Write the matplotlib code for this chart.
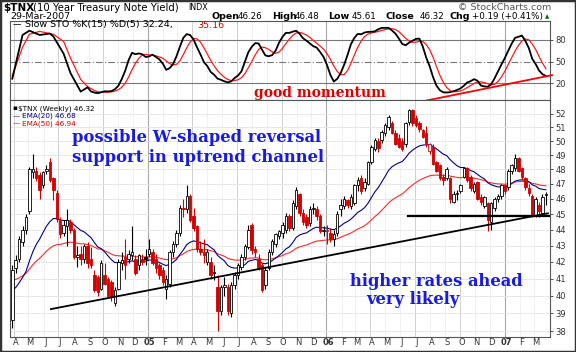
import matplotlib
matplotlib.use('Agg')
import matplotlib.pyplot as plt
import numpy as np
import pandas as pd

# $TNX weekly bars, week of 2004-03-29 .. week of 2007-03-26
opens = [38.6, 41.6, 42.2, 43.2, 44.0, 45.2, 47.8, 47.9, 47.6, 46.9, 47.9, 48.5, 47.4, 46.4, 44.6, 43.8, 44.2, 44.5, 44.0, 42.3,
         42.5, 42.2, 43.0, 42.2, 41.2, 41.1, 40.4, 41.2, 41.0, 40.8, 39.6, 40.4, 41.9, 42.3, 42.2, 42.4, 42.2, 41.8, 42.2, 42.3,
         42.5, 42.6, 42.2, 41.8, 41.5, 40.4, 40.7, 42.6, 43.1, 43.8, 45.4, 45.3, 46.2, 44.9, 44.2, 42.8, 42.6, 42.0, 42.0, 41.3,
         40.5, 39.1, 40.5, 40.5, 39.0, 40.6, 41.2, 41.7, 42.3, 42.9, 44.3, 42.8, 42.2, 41.8, 40.6, 41.6, 42.6, 43.1, 43.6, 43.8,
         44.0, 44.9, 44.1, 45.5, 46.3, 45.1, 44.8, 44.4, 45.3, 45.3, 44.9, 43.9, 43.9, 43.8, 43.4, 43.8, 45.3, 45.5, 45.9, 45.5,
         45.7, 46.9, 47.4, 46.7, 47.0, 48.5, 49.4, 50.0, 50.1, 50.6, 51.0, 51.3, 50.6, 50.2, 50.0, 49.8, 51.4, 52.3, 51.7, 51.3,
         50.8, 50.6, 49.3, 49.6, 48.5, 48.3, 47.5, 47.4, 47.4, 45.8, 46.3, 46.5, 47.5, 48.1, 47.5, 46.5, 47.1, 46.1, 45.5, 45.7,
         44.5, 45.4, 46.0, 46.2, 46.9, 46.8, 47.9, 48.1, 48.8, 48.1, 47.4, 46.7, 46.2, 44.9, 45.6, 45.1, 46.26]
highs = [41.8, 42.4, 43.6, 44.2, 45.0, 48.2, 49.1, 48.2, 47.8, 47.9, 48.3, 48.8, 47.5, 46.6, 44.8, 44.6, 45.3, 44.7, 44.1, 43.0,
         43.0, 43.1, 43.2, 42.9, 41.5, 41.2, 42.1, 41.9, 41.1, 40.9, 40.5, 42.2, 42.6, 43.4, 42.7, 44.2, 42.4, 42.5, 42.5, 42.8,
         43.4, 42.8, 42.5, 41.9, 41.7, 41.2, 42.7, 43.3, 44.0, 45.6, 46.0, 46.9, 46.3, 45.4, 44.3, 43.3, 43.4, 42.8, 42.3, 41.8,
         41.2, 40.6, 41.1, 40.7, 40.8, 41.4, 41.9, 42.5, 43.1, 44.3, 44.4, 43.0, 42.5, 41.9, 41.7, 42.8, 43.4, 43.8, 44.0, 44.5,
         45.1, 45.0, 45.9, 46.8, 46.4, 45.3, 45.0, 45.5, 45.7, 45.5, 45.0, 44.2, 44.3, 44.1, 44.0, 45.2, 46.0, 46.2, 46.0, 46.3,
         47.0, 47.5, 47.6, 47.4, 48.6, 49.7, 50.2, 50.2, 50.8, 51.3, 51.9, 51.5, 50.8, 50.5, 50.2, 51.4, 52.4, 52.4, 51.9, 51.5,
         50.9, 51.1, 49.9, 49.8, 48.6, 48.4, 47.7, 48.2, 47.5, 46.5, 46.6, 47.0, 48.2, 48.2, 47.6, 47.1, 47.2, 46.3, 46.2, 45.8,
         45.8, 46.1, 46.3, 47.0, 47.0, 48.0, 48.4, 49.1, 48.9, 48.2, 47.5, 47.0, 46.3, 46.1, 45.8, 46.3, 46.48]
lows = [38.2, 41.3, 42.0, 43.0, 43.7, 45.0, 47.4, 47.2, 46.0, 46.7, 47.7, 47.1, 45.9, 44.5, 43.5, 43.6, 43.0, 43.8, 42.2, 41.7,
        41.8, 41.9, 41.6, 41.6, 40.2, 40.0, 40.3, 40.6, 39.9, 39.7, 39.4, 40.3, 41.5, 41.0, 41.9, 42.1, 41.2, 41.5, 41.8, 41.8,
        42.3, 41.8, 41.3, 41.0, 40.6, 39.8, 40.5, 42.3, 42.9, 43.6, 44.8, 45.1, 44.5, 43.9, 42.6, 42.4, 41.9, 41.8, 41.0, 40.9,
        38.0, 38.9, 40.0, 38.9, 38.8, 40.4, 41.0, 41.5, 42.1, 42.8, 42.5, 42.3, 41.5, 40.2, 40.4, 41.5, 42.4, 42.9, 43.4, 43.5,
        43.8, 43.9, 44.0, 45.3, 44.9, 44.3, 44.1, 44.2, 45.0, 44.6, 43.8, 43.6, 43.1, 43.2, 43.0, 43.6, 44.9, 45.3, 45.4, 45.3,
        45.6, 46.5, 46.3, 46.5, 46.9, 48.4, 49.3, 49.2, 49.9, 50.4, 50.8, 50.5, 49.7, 49.5, 49.3, 49.6, 51.2, 51.1, 51.0, 50.7,
        50.2, 49.6, 49.1, 48.3, 47.8, 47.3, 46.9, 47.3, 45.7, 45.7, 45.9, 46.4, 47.4, 47.1, 46.5, 46.4, 45.9, 45.6, 45.4, 43.9,
        44.0, 45.2, 45.8, 46.0, 46.3, 46.6, 47.7, 47.9, 47.8, 47.3, 46.6, 46.2, 44.8, 44.8, 44.8, 45.0, 45.61]
closes = [41.5, 42.1, 43.4, 44.0, 44.8, 48.0, 48.0, 47.4, 46.6, 47.8, 48.0, 47.3, 46.6, 44.7, 43.7, 44.3, 44.6, 44.0, 42.3, 42.4,
          42.2, 43.0, 41.9, 41.8, 40.3, 40.2, 41.9, 40.7, 40.0, 39.9, 40.3, 42.0, 42.1, 41.8, 42.5, 42.6, 41.3, 42.4, 42.0, 42.2,
          42.8, 41.9, 41.6, 41.2, 40.8, 41.0, 42.6, 43.1, 43.8, 45.4, 45.3, 46.2, 44.6, 44.1, 42.8, 42.6, 42.4, 42.6, 41.2, 41.4,
          39.1, 40.5, 40.6, 39.1, 40.6, 41.2, 41.8, 42.3, 43.0, 44.0, 42.7, 42.6, 41.6, 40.3, 41.5, 42.6, 43.3, 43.7, 43.9, 44.3,
          44.9, 44.1, 45.7, 46.6, 45.1, 44.5, 44.3, 45.3, 45.4, 44.9, 43.9, 44.0, 43.9, 43.4, 43.7, 45.0, 45.6, 46.0, 45.6, 46.1,
          46.9, 47.3, 46.5, 47.1, 48.5, 49.6, 50.1, 49.5, 50.7, 51.2, 51.8, 50.6, 49.8, 49.6, 49.4, 51.3, 52.3, 51.3, 51.2, 50.9,
          50.3, 49.9, 49.8, 48.4, 47.9, 47.4, 47.3, 48.0, 46.0, 46.3, 46.4, 46.9, 48.1, 47.3, 46.7, 47.0, 46.0, 45.8, 46.1, 44.6,
          45.7, 46.0, 46.2, 46.9, 46.5, 47.9, 48.3, 48.8, 47.9, 47.5, 46.8, 46.4, 44.9, 46.0, 45.2, 46.1, 46.32]
ema20_start = 40.3
ema50_start = 40.9

# slow stochastic for the first weeks (before the 15/5/5 window fills)
sto_early_weeks = [0, 3, 5, 8, 11, 12, 15, 17, 20, 22]
sto_k_early = [26, 87, 93, 87, 89, 85, 61, 34, 8, 14]
sto_d_early = [30, 70, 88, 92, 89, 88, 78, 55, 25, 15]

month_labels = ['A', 'M', 'J', 'J', 'A', 'S', 'O', 'N', 'D', '05', 'F', 'M', 'A', 'M', 'J', 'J', 'A', 'S', 'O', 'N', 'D',
                '06', 'F', 'M', 'A', 'M', 'J', 'J', 'A', 'S', 'O', 'N', 'D', '07', 'F', 'M']

weeks = pd.date_range('2004-03-29', periods=len(closes), freq='W-MON')
n = len(closes)
x = np.arange(n)
o, h, l, c = (np.array(v) for v in (opens, highs, lows, closes))

ema20 = pd.Series(np.r_[ema20_start, c[1:]]).ewm(span=20, adjust=False).mean().values
ema50 = pd.Series(np.r_[ema50_start, c[1:]]).ewm(span=50, adjust=False).mean().values

# slow stochastic %K(15) %D(5)
hh = pd.Series(h).rolling(15).max()
ll = pd.Series(l).rolling(15).min()
fast_k = 100 * (pd.Series(c) - ll) / (hh - ll)
slow_k = fast_k.rolling(5).mean()
slow_d = slow_k.rolling(5).mean()

RED = '#d40000'
BLUE = '#1a1ae6'

fig = plt.figure(figsize=(5.76, 3.52), dpi=100)
fig.patch.set_facecolor('white')
W, H = 576.0, 352.0
L_PX, R_PX = 10, 550
ax_sto = fig.add_axes([L_PX / W, (H - 100) / H, (R_PX - L_PX) / W, 79 / H])
ax = fig.add_axes([L_PX / W, (H - 337) / H, (R_PX - L_PX) / W, 237 / H])

xmin, xmax = -0.67, 157.2
month_starts = pd.date_range('2004-04-01', '2007-03-01', freq='MS')
mpos = np.array([(d - weeks[0]).days / 7.0 for d in month_starts])

for a in (ax, ax_sto):
    a.set_xlim(xmin, xmax)
    for d, p in zip(month_starts, mpos):
        if d.month == 1:
            a.axvline(p, color='#a8a8a8', lw=0.8, zorder=0)
        elif d.month in (4, 7, 10):
            a.axvline(p, color='#d0d0d0', lw=0.7, zorder=0)
        else:
            a.axvline(p, color='#ececec', lw=0.5, zorder=0)
    for s in a.spines.values():
        s.set_color('#555555')
        s.set_linewidth(0.8)
    a.yaxis.tick_right()
    a.tick_params(axis='y', labelsize=6, length=2, pad=2, colors='#333333', width=0.6)
    a.set_xticks([])

# ---- stochastic panel
ax_sto.set_ylim(-3.7, 106.5)
ax_sto.axhline(80, color='#777777', lw=0.8)
ax_sto.axhline(20, color='#777777', lw=0.8)
ax_sto.axhline(50, color='#777777', lw=0.8, ls=(0, (6, 2, 1, 2)))
k_ok = slow_k.notna().values & (x > 22)
d_ok = slow_d.notna().values & (x > 22)
ax_sto.plot(sto_early_weeks + list(x[d_ok]), sto_d_early + list(slow_d[d_ok]), color='#ff1a1a', lw=0.9)
ax_sto.plot(sto_early_weeks + list(x[k_ok]), sto_k_early + list(slow_k[k_ok]), color='black', lw=1.3)
ax_sto.set_yticks([20, 50, 80])
ax_sto.plot([120.5, 157.8], [-5, 31], color='#ff0000', lw=1.3, clip_on=False, zorder=5)
fig.text(13 / W, 1 - 25 / H, '\u2014', fontsize=6, va='center')
fig.text(25 / W, 1 - 25 / H, 'Slow STO %K(15) %D(5) 32.24,', fontsize=6.8, va='center')
fig.text(197 / W, 1 - 25 / H, '35.16', fontsize=6.8, va='center', color=RED)
fig.text(254 / W, 1 - 93.5 / H, 'good momentum', fontsize=10, fontweight='bold',
         family='DejaVu Serif', color='#e00000', va='center', ha='left')

# ---- price panel
ax.set_yscale('log')
ax.set_ylim(37.68, 53.06)
yt = np.arange(38, 53)
ax.set_yticks(yt)
ax.set_yticklabels([str(v) for v in yt])
ax.yaxis.set_minor_locator(matplotlib.ticker.NullLocator())
for v in yt:
    ax.axhline(v, color='#e4e4e4', lw=0.6, zorder=0)

ax.plot(x, ema50, color='#ff2a2a', lw=0.8, zorder=2)
ax.plot(x, ema20, color='#00008c', lw=0.8, zorder=2)

prev = np.r_[c[0] - 1, c[:-1]]
for i in range(n):
    col = RED if c[i] < prev[i] else 'black'
    ax.vlines(x[i], l[i], h[i], color=col, lw=0.8, zorder=3)
    lo, hi = min(o[i], c[i]), max(o[i], c[i])
    fc = col if c[i] < o[i] else 'white'
    ax.bar(x[i], max(hi - lo, 0.05), bottom=lo, width=0.72, color=fc, edgecolor=col, lw=0.6, zorder=4)

# trend lines drawn on the chart
ax.plot([11.3, 156.6], [39.23, 45.05], color='black', lw=1.3, zorder=5)
ax.plot([115.6, 157.2], [44.9, 44.9], color='black', lw=1.6, zorder=5)

ax.set_xticks(mpos)
ax.set_xticklabels([])
ax.tick_params(axis='x', length=0)
for p, lab in zip(mpos, month_labels):
    ax.text(p + 0.5, -0.025, lab, transform=ax.get_xaxis_transform(), fontsize=6, ha='center', va='center',
            fontweight='bold' if lab.isdigit() else 'normal', color='#333333')

fig.text(12 / W, 1 - 108.3 / H, '\u25aa', fontsize=5.2, va='center')
fig.text(18 / W, 1 - 108.3 / H, '$TNX (Weekly) 46.32', fontsize=5.2, va='center')
fig.text(13 / W, 1 - 115.9 / H, '\u2014', fontsize=5.2, va='center', color='#00008c')
fig.text(22.5 / W, 1 - 115.9 / H, 'EMA(20) 46.68', fontsize=5.2, va='center', color='#00008c')
fig.text(13 / W, 1 - 123.5 / H, '\u2014', fontsize=5.2, va='center', color=RED)
fig.text(22.5 / W, 1 - 123.5 / H, 'EMA(50) 46.94', fontsize=5.2, va='center', color=RED)

serif = dict(family='DejaVu Serif', fontweight='bold', color=BLUE, fontsize=11.8, va='center', ha='left')
fig.text(72 / W, 1 - 138 / H, 'possible W-shaped reversal', **serif)
fig.text(72 / W, 1 - 157 / H, 'support in uptrend channel', **serif)
fig.text(350 / W, 1 - 282 / H, 'higher rates ahead', **serif)
fig.text(366 / W, 1 - 300 / H, 'very likely', **serif)

# ---- header
fig.text(3 / W, 1 - 8 / H, '$TNX', fontsize=7.5, fontweight='bold', va='center')
fig.text(33 / W, 1 - 8 / H, '(10 Year Treasury Note Yield)', fontsize=7.3, va='center')
fig.text(188 / W, 1 - 8 / H, 'INDX', fontsize=5.8, va='center')
fig.text(10 / W, 1 - 16.5 / H, '29-Mar-2007', fontsize=6.8, va='center')
fig.text(458 / W, 1 - 7 / H, '\u00a9 StockCharts.com', fontsize=6.8, va='center', color='#555555')
hdr = [(211, 'Open', True), (238, '46.26', False), (272, 'High', True), (295, '46.48', False),
       (328, 'Low', True), (352, '45.61', False), (386, 'Close', True), (420, '46.32', False),
       (450, 'Chg', True), (472, '+0.19 (+0.41%)', False)]
for px, s, b in hdr:
    fig.text(px / W, 1 - 16.5 / H, s, fontsize=6.8 if b else 6.3, fontweight='bold' if b else 'normal', va='center')
fig.text(545 / W, 1 - 16.5 / H, '\u25b2', fontsize=4, va='center', color='#006600')

fig.patches.append(plt.Rectangle((0, 0), 1, 1, transform=fig.transFigure, fill=False, edgecolor='#333333', lw=2.5))

fig.savefig('out.png', dpi=100)
